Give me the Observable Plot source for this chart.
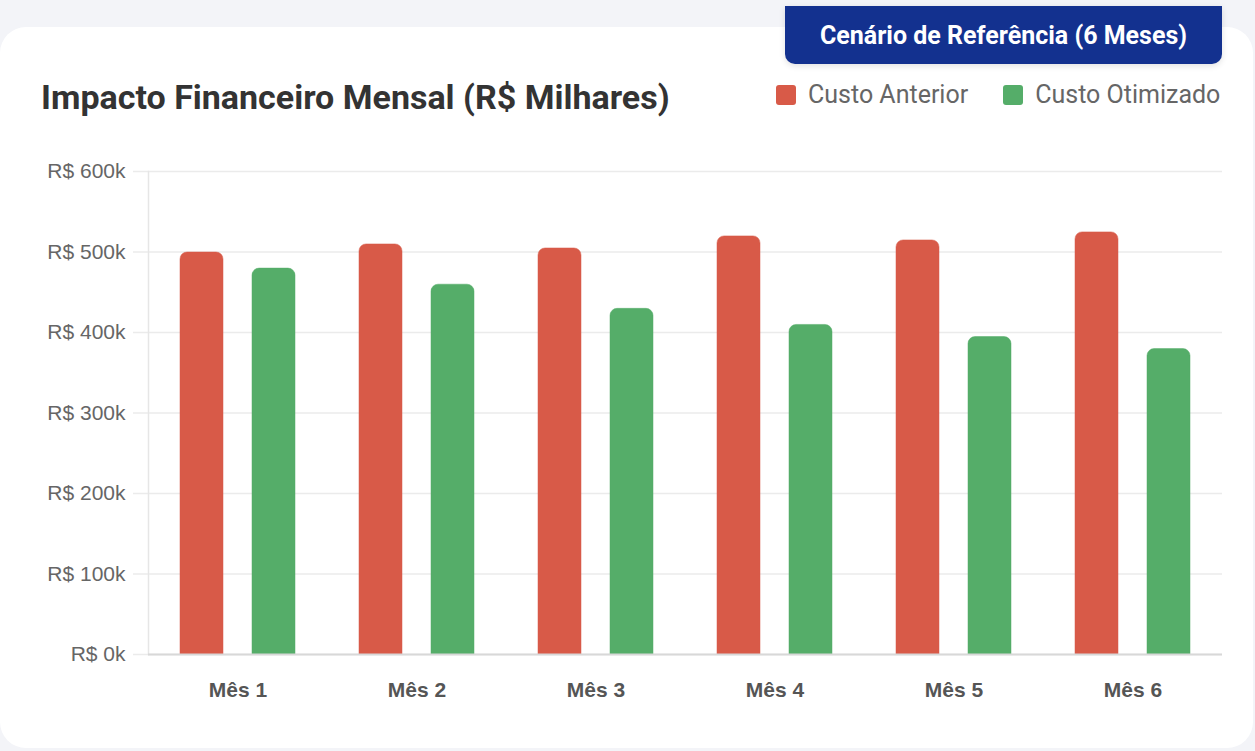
<!DOCTYPE html>
<html>
<head>
<meta charset="utf-8">
<script src="https://cdn.jsdelivr.net/npm/d3@7"></script>
<script src="https://cdn.jsdelivr.net/npm/@observablehq/plot@0.6"></script>
<style>
  html, body { margin: 0; padding: 0; }
  body { width: 1255px; height: 751px; background: #f3f4f8; position: relative; overflow: hidden; font-family: Roboto, "Liberation Sans", sans-serif; }
  #card { position: absolute; left: 0; top: 27px; width: 1253px; height: 721px; background: #fff; border-radius: 26px; }
  #badge { position: absolute; left: 785px; top: 6px; width: 437px; height: 58px; background: #13318f; border-radius: 0 0 10px 10px; color: #fff; font: 700 25px Roboto, sans-serif; display: flex; align-items: center; justify-content: center; box-shadow: 0 2px 6px rgba(0,0,0,0.12); z-index: 2; }
  #title { position: absolute; left: 41px; top: 76px; font: 700 34px Roboto, sans-serif; color: #333; white-space: nowrap; line-height: 42px; }
  #legend { position: absolute; left: 776px; top: 80px; display: flex; align-items: center; font: 400 25px Roboto, sans-serif; color: #666; white-space: nowrap; line-height: 30px; }
  .sw { width: 20px; height: 20px; border-radius: 3px; display: inline-block; margin-right: 12px; }
  .item { display: flex; align-items: center; margin-right: 35px; }
  #chart { position: absolute; left: 0; top: 150px; }
</style>
</head>
<body>
<div id="card"></div>
<div id="badge">Cenário de Referência (6 Meses)</div>
<div id="title">Impacto Financeiro Mensal (R$ Milhares)</div>
<div id="legend"></div>
<div id="chart"></div>
<script>
const months = ["Mês 1", "Mês 2", "Mês 3", "Mês 4", "Mês 5", "Mês 6"];
const seriesNames = ["Custo Anterior", "Custo Otimizado"];
const custoAnterior = [500, 510, 505, 520, 515, 525];
const custoOtimizado = [480, 460, 430, 410, 395, 380];
const seriesColors = ["#d85a48", "#55ad69"];
const yTicks = [0, 100, 200, 300, 400, 500, 600];

const data = [];
months.forEach((m, i) => {
  data.push({ month: m, series: seriesNames[0], value: custoAnterior[i] });
  data.push({ month: m, series: seriesNames[1], value: custoOtimizado[i] });
});

const legend = document.getElementById("legend");
seriesNames.forEach((s, i) => {
  const it = document.createElement("div");
  it.className = "item";
  it.innerHTML = `<span class="sw" style="background:${seriesColors[i]}"></span>${s}`;
  legend.appendChild(it);
});

const plot = Plot.plot({
  width: 1255,
  height: 560,
  marginLeft: 148,
  marginRight: 33,
  marginTop: 21,
  marginBottom: 56,
  style: { background: "transparent", overflow: "visible" },
  fx: { domain: months, padding: 0, label: null },
  x: { domain: seriesNames, paddingInner: 0.4, paddingOuter: 0.44, axis: null },
  y: { domain: [0, 600], label: null },
  color: { domain: seriesNames, range: seriesColors },
  marks: [
    Plot.gridY(yTicks, { stroke: "#ebebeb", strokeOpacity: 1, strokeWidth: 1.5 }),
    Plot.axisY(yTicks, {
      tickSize: 15, tickPadding: 8, stroke: "#ebebeb", strokeWidth: 1.5,
      tickFormat: d => `R$ ${d}k`, fontSize: 21, fill: "#666",
      fontFamily: "'Liberation Sans', Arial, sans-serif", label: null
    }),
    Plot.frame({ anchor: "left", facet: "super", stroke: "#e6e6e6", strokeWidth: 1.5 }),
    Plot.barY(data, {
      fx: "month", x: "series", y: "value", fill: "series",
      stroke: "series", strokeOpacity: 0.5, strokeWidth: 1, insetTop: 0.5,
      ry1: 7
    }),
    Plot.ruleY([0], { stroke: "#d8d8d8", strokeWidth: 2 }),
    Plot.axisFx({
      anchor: "bottom", tickSize: 0, tickPadding: 28, fontSize: 21, fontWeight: "bold", fill: "#555",
      fontFamily: "'Liberation Sans', Arial, sans-serif", label: null
    })
  ]
});
document.getElementById("chart").appendChild(plot);
</script>
</body>
</html>
